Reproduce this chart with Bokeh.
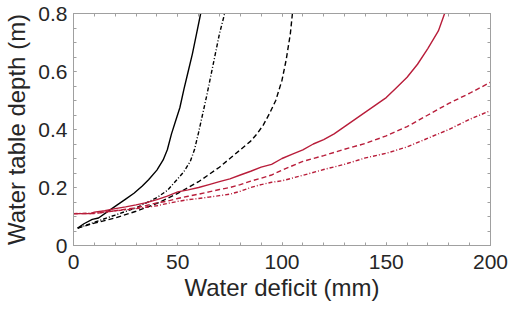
from bokeh.plotting import figure
from bokeh.models import LinearAxis, Range1d, SingleIntervalTicker, CustomJSTickFormatter
from bokeh.embed import file_html
from bokeh.resources import INLINE

# Data (water deficit mm, water table depth m)
blk_solid_x = [2, 5, 9, 12, 16, 21, 25, 29, 33, 36, 40, 43, 45, 47, 49, 51, 53, 55, 57, 59, 61]
blk_solid_y = [0.06, 0.075, 0.09, 0.095, 0.115, 0.14, 0.16, 0.18, 0.205, 0.227, 0.26, 0.295, 0.33, 0.385, 0.43, 0.475, 0.54, 0.6, 0.66, 0.73, 0.8]

blk_dashdot_x = [2, 10, 20, 30, 40, 45, 50, 53, 56, 58, 60, 62, 64, 66, 68, 70, 72.5]
blk_dashdot_y = [0.06, 0.08, 0.105, 0.13, 0.165, 0.19, 0.23, 0.255, 0.29, 0.33, 0.39, 0.455, 0.52, 0.59, 0.66, 0.73, 0.8]

blk_dash_x = [2, 10, 20, 30, 40, 50, 55, 60, 65, 70, 75, 80, 85, 88, 91, 94, 97, 100, 102, 104, 105]
blk_dash_y = [0.06, 0.077, 0.095, 0.118, 0.145, 0.18, 0.2, 0.22, 0.245, 0.27, 0.3, 0.33, 0.36, 0.385, 0.415, 0.455, 0.5, 0.57, 0.64, 0.73, 0.8]

red_solid_x = [0, 8, 10, 15, 20, 25, 30, 35, 40, 45, 50, 55, 60, 65, 70, 75, 80, 85, 90, 95, 100, 105, 110, 115, 120, 125, 130, 135, 140, 145, 150, 155, 160, 165, 170, 175, 178]
red_solid_y = [0.11, 0.11, 0.115, 0.12, 0.127, 0.133, 0.14, 0.148, 0.158, 0.17, 0.185, 0.192, 0.2, 0.21, 0.22, 0.23, 0.243, 0.256, 0.27, 0.28, 0.3, 0.315, 0.33, 0.35, 0.365, 0.385, 0.41, 0.435, 0.46, 0.485, 0.51, 0.545, 0.58, 0.625, 0.68, 0.74, 0.8]

red_dash_x = [0, 10, 15, 20, 25, 30, 35, 40, 45, 50, 55, 60, 65, 70, 75, 80, 85, 90, 95, 100, 110, 120, 130, 140, 150, 160, 170, 180, 190, 200]
red_dash_y = [0.11, 0.11, 0.115, 0.12, 0.125, 0.13, 0.138, 0.147, 0.153, 0.162, 0.17, 0.177, 0.185, 0.193, 0.2, 0.21, 0.222, 0.232, 0.243, 0.26, 0.29, 0.31, 0.332, 0.352, 0.378, 0.41, 0.45, 0.49, 0.525, 0.563]

red_dashdot_x = [0, 10, 15, 20, 25, 30, 35, 40, 45, 50, 55, 60, 65, 70, 75, 80, 85, 90, 95, 100, 110, 120, 130, 140, 150, 160, 170, 180, 190, 200]
red_dashdot_y = [0.11, 0.112, 0.115, 0.12, 0.123, 0.127, 0.132, 0.137, 0.145, 0.152, 0.158, 0.162, 0.167, 0.172, 0.177, 0.187, 0.2, 0.21, 0.218, 0.223, 0.242, 0.262, 0.28, 0.302, 0.318, 0.34, 0.37, 0.4, 0.435, 0.465]

x_label = "Water deficit (mm)"
y_label = "Water table depth (m)"

FONT = "Liberation Sans"
BLACK = "#000000"
RED = "#b81d3a"
FRAME = "#a0a0a0"
TXT = "#262626"

p = figure(width=510, height=310, output_backend="svg", toolbar_location=None,
           x_range=Range1d(0, 200), y_range=Range1d(0, 0.8),
           min_border_left=72, min_border_right=20, min_border_top=13, min_border_bottom=65)
p.background_fill_color = "white"
p.border_fill_color = "white"
p.grid.visible = False
p.outline_line_color = FRAME
p.outline_line_width = 1

def style_axis(ax, ticker, show_labels):
    ax.ticker = ticker
    ax.axis_line_color = FRAME
    ax.major_tick_line_color = FRAME
    ax.minor_tick_line_color = FRAME
    ax.major_tick_in = 3
    ax.major_tick_out = 0
    ax.minor_tick_in = 3
    ax.minor_tick_out = 0
    ax.major_label_text_font = FONT
    ax.major_label_text_color = TXT
    ax.axis_label_text_font = FONT
    ax.axis_label_text_color = TXT
    ax.axis_label_text_font_style = "normal"
    ax.major_label_text_font_size = "21px"
    ax.axis_label_text_font_size = "24px"
    if not show_labels:
        ax.formatter = CustomJSTickFormatter(code="return '';")
        ax.major_label_standoff = 0

xt = lambda: SingleIntervalTicker(interval=50, num_minor_ticks=5)
yt = lambda: SingleIntervalTicker(interval=0.2, num_minor_ticks=4)

style_axis(p.xaxis[0], xt(), True)
style_axis(p.yaxis[0], yt(), True)
p.xaxis[0].axis_label = x_label
p.yaxis[0].axis_label = y_label
p.xaxis[0].major_label_standoff = 9
p.xaxis[0].axis_label_standoff = 2
p.yaxis[0].major_label_standoff = 6
p.yaxis[0].axis_label_standoff = 5
p.yaxis[0].major_label_overrides = {0: "0", 0.2: "0.2", 0.4: "0.4", 0.6: "0.6", 0.8: "0.8"}

top = LinearAxis()
style_axis(top, xt(), False)
p.add_layout(top, "above")
right = LinearAxis()
style_axis(right, yt(), False)
p.add_layout(right, "right")

lw = 1.4
p.line(blk_solid_x, blk_solid_y, line_color=BLACK, line_width=lw)
p.line(blk_dashdot_x, blk_dashdot_y, line_color=BLACK, line_width=lw, line_dash="4 2 1 2")
p.line(blk_dash_x, blk_dash_y, line_color=BLACK, line_width=lw, line_dash="5 3")
p.line(red_solid_x, red_solid_y, line_color=RED, line_width=lw)
p.line(red_dash_x, red_dash_y, line_color=RED, line_width=lw, line_dash="5 3")
p.line(red_dashdot_x, red_dashdot_y, line_color=RED, line_width=lw, line_dash="4 2 1 2")

open("out.html", "w").write(file_html(p, INLINE))
